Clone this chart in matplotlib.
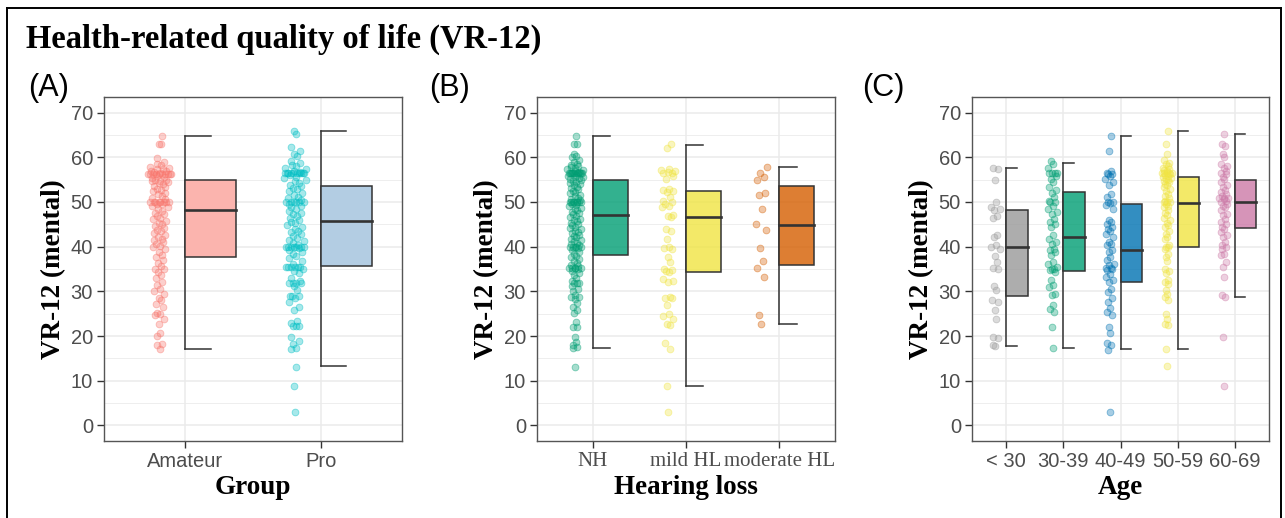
"""
Raincloud-style panels: VR-12 mental score by group, hearing loss and age
"""

import numpy as np
import matplotlib
matplotlib.use('Agg')
import matplotlib.pyplot as plt
from matplotlib.patches import Rectangle
from matplotlib.lines import Line2D
from matplotlib.colors import to_rgba

# ---- data ----
group_cats = ['Amateur', 'Pro']
amateur = [64.8, 62.9, 62.9, 59.8, 58.9, 58.4, 58.2, 57.8, 57.6, 57.4, 57.3, 57.0, 57.0, 56.8, 56.6,
           56.3, 56.3, 56.3, 56.3, 56.3, 56.3, 56.3, 56.3, 56.3, 56.3,
           55.8, 55.5, 55.3, 55.0, 55.0, 54.8, 54.6, 54.4, 54.2, 54.0, 53.6, 53.3, 53.0, 52.7,
           52.4, 52.0, 51.7, 51.4, 51.0, 50.7, 50.0, 50.0, 50.0, 50.0, 50.0, 50.0, 50.0, 50.0,
           49.6, 49.6, 49.2, 48.8, 48.4, 48.0, 47.6, 47.2, 46.8, 46.5, 46.1, 45.7, 45.3, 45.0,
           44.6, 44.2, 43.8, 43.4, 43.0, 42.6, 42.2, 41.8, 41.4, 41.0, 40.6, 40.2, 40.0, 39.4,
           38.8, 38.2, 37.6, 37.0, 36.3, 35.6, 35.0, 35.0, 34.4, 33.7, 33.0, 32.2, 31.4, 30.6,
           30.0, 29.3, 28.6, 28.0, 27.2, 26.4, 25.2, 25.0, 24.8, 23.8, 22.8, 20.7, 20.0, 18.3,
           18.0, 17.2]
pro = [65.8, 65.3, 62.2, 61.5, 60.8, 60.3, 59.2, 58.8, 58.3, 58.0, 57.6, 57.3, 57.0, 56.8,
       56.4, 56.4, 56.4, 56.4, 56.4, 56.4, 56.4, 56.4, 56.4, 56.4,
       56.0, 55.7, 55.4, 55.0, 54.6, 54.2, 53.9, 53.5, 53.1, 52.8, 52.4, 52.0, 51.6, 51.2,
       50.8, 50.4, 50.0, 50.0, 50.0, 50.0, 50.0, 50.0, 49.6, 49.2, 48.8, 48.4, 48.0, 47.6,
       47.2, 46.8, 46.4, 46.0, 45.6, 45.2, 44.8, 44.4, 44.0, 43.6, 43.2, 42.8, 42.4, 42.0,
       41.6, 41.2, 40.8, 40.4, 40.0, 40.0, 40.0, 40.0, 40.0, 40.0, 40.0, 39.6, 39.2, 38.8,
       38.4, 38.0, 37.4, 36.8, 36.2, 35.5, 35.5, 35.5, 35.5, 35.5, 35.5, 35.0, 34.6, 34.2,
       33.0, 32.4, 31.8, 31.8, 31.8, 31.8, 31.2, 30.2, 29.0, 29.0, 29.0, 28.4, 27.6, 26.6,
       25.9, 23.4, 22.9, 22.3, 22.3, 22.3, 19.7, 18.8, 18.2, 17.3, 17.0, 13.1, 8.8, 2.9]
# box stats: lower whisker, q1, median, q3, upper whisker
group_stats = [[17.2, 37.7, 48.3, 55.0, 64.8],
               [13.2, 35.7, 45.7, 53.5, 65.8]]

hl_cats = ['NH', 'mild HL', 'moderate HL']
nh = [64.8, 62.9, 62.9, 60.8, 60.3, 60.0, 59.3, 58.9, 58.6, 58.3, 58.0, 57.8, 57.6, 57.4,
      57.2, 57.0, 56.8, 56.6, 56.4, 56.4, 56.4, 56.4, 56.4, 56.4, 56.4, 56.4, 56.4, 56.4,
      56.1, 55.9, 55.7, 55.5, 55.3, 55.1, 54.9, 54.7, 54.5, 54.3, 54.0, 53.7, 53.4, 53.1,
      52.8, 52.5, 52.2, 51.9, 51.6, 51.3, 51.0, 50.7, 50.4, 50.0, 50.0, 50.0, 50.0, 50.0,
      50.0, 50.0, 50.0, 49.6, 49.3, 49.0, 48.7, 48.4, 48.1, 47.8, 47.5, 47.2, 46.9, 46.6,
      46.3, 46.0, 45.7, 45.4, 45.1, 44.8, 44.5, 44.2, 43.9, 43.6, 43.3, 43.0, 42.7, 42.4,
      42.1, 41.8, 41.5, 41.2, 40.9, 40.6, 40.3, 40.0, 40.0, 40.0, 40.0, 40.0, 39.6, 39.2,
      38.8, 38.4, 38.0, 37.6, 37.2, 36.8, 36.4, 36.0, 35.6, 35.3, 35.3, 35.3, 35.3, 35.3,
      35.0, 34.6, 34.2, 33.6, 33.0, 32.4, 31.8, 31.8, 31.8, 31.2, 30.6, 30.0, 29.2, 28.8,
      28.8, 28.2, 27.4, 26.6, 25.9, 25.1, 23.2, 22.1, 22.1, 19.8, 18.7, 18.0, 17.6, 17.3, 13.0]
mild = [62.9, 62.0, 57.4, 57.2, 57.0, 56.8, 56.6, 56.6, 55.8, 55.1, 52.9, 52.7, 52.5, 52.3,
        51.1, 50.3, 50.0, 49.6, 49.2, 48.8, 47.0, 46.8, 46.6, 44.0, 43.6, 41.8, 39.9, 39.7,
        39.5, 37.7, 36.6, 35.1, 34.8, 34.5, 34.3, 32.8, 32.4, 32.1, 28.8, 28.6, 28.4, 26.9,
        25.0, 24.4, 23.9, 22.8, 22.4, 18.4, 17.2, 8.8, 2.9]
moderate = [57.9, 56.4, 55.5, 54.9, 51.9, 51.6, 48.4, 45.0, 43.8, 39.8, 36.8, 35.3, 33.1,
            24.7, 22.7]
hl_stats = [[17.3, 38.2, 47.1, 55.0, 64.8],
            [8.8, 34.4, 46.6, 52.5, 62.8],
            [22.6, 36.0, 44.9, 53.5, 57.9]]

age_cats = ['< 30', '30-39', '40-49', '50-59', '60-69']
age_u30 = [57.7, 57.3, 54.9, 49.9, 48.8, 48.5, 48.2, 46.9, 46.4, 42.5, 42.1, 40.3, 40.0, 39.5,
           38.0, 36.6, 35.3, 34.9, 31.2, 30.2, 28.0, 27.7, 25.8, 23.9, 19.8, 19.5, 18.0, 17.7]
age_30s = [59.2, 58.5, 57.5, 56.4, 56.4, 56.4, 56.4, 55.8, 55.1, 54.4, 53.3, 52.7, 52.0, 51.2,
           50.3, 49.9, 49.9, 49.2, 48.5, 47.7, 47.3, 46.2, 45.5, 45.1, 44.4, 42.5, 41.8, 41.0,
           40.6, 39.5, 39.2, 38.8, 38.1, 36.6, 36.2, 35.4, 35.1, 35.1, 34.7, 34.3, 32.5, 31.4,
           31.0, 29.5, 29.1, 26.9, 26.0, 25.4, 22.1, 17.4]
age_40s = [64.8, 61.5, 57.0, 56.5, 56.3, 56.3, 55.9, 55.2, 54.4, 53.7, 51.8, 51.2, 50.0, 50.0,
           49.8, 49.4, 48.5, 46.0, 45.5, 45.1, 44.4, 44.0, 43.4, 42.9, 42.1, 41.0, 40.6, 40.3,
           39.2, 38.8, 37.7, 37.0, 36.2, 35.8, 35.3, 35.3, 35.0, 34.7, 33.9, 33.2, 32.5, 32.1,
           30.6, 29.9, 28.4, 27.6, 26.2, 25.4, 24.7, 22.1, 20.6, 18.4, 18.0, 16.9, 2.9]
age_50s = [65.8, 62.9, 60.7, 59.3, 58.8, 58.4, 58.0, 57.7, 57.4, 57.1, 56.9, 56.6, 56.6, 56.4,
           56.4, 56.4, 56.2, 56.0, 55.8, 55.6, 55.4, 55.1, 54.9, 54.7, 54.4, 54.1, 53.7, 53.3,
           52.9, 52.4, 51.8, 51.3, 50.8, 50.3, 50.0, 50.0, 50.0, 49.6, 49.2, 48.8, 48.1, 47.5,
           47.0, 46.4, 46.0, 45.4, 44.8, 44.4, 43.6, 42.9, 42.2, 41.8, 40.3, 40.0, 40.0, 39.5,
           38.4, 37.7, 36.9, 35.1, 34.6, 34.0, 32.5, 32.1, 31.7, 30.2, 29.4, 28.7, 28.0, 25.0,
           23.9, 22.8, 22.4, 17.2, 13.2]
age_60s = [65.3, 62.9, 62.6, 60.7, 60.0, 58.5, 58.1, 57.7, 57.0, 56.6, 56.3, 55.5, 55.1, 54.4,
           53.7, 53.3, 52.6, 52.2, 51.8, 51.4, 51.0, 50.9, 50.9, 50.6, 50.3, 50.0, 49.6, 49.2,
           48.8, 48.1, 47.3, 47.0, 46.2, 45.5, 45.1, 44.4, 44.0, 43.3, 42.5, 42.1, 41.0, 40.3,
           40.0, 39.5, 38.4, 38.1, 36.6, 35.4, 33.1, 29.1, 28.8, 19.8, 8.8]
age_stats = [[17.7, 29.0, 40.0, 48.3, 57.7],
             [17.4, 34.6, 42.2, 52.3, 58.8],
             [17.0, 32.1, 39.2, 49.6, 64.8],
             [17.2, 40.0, 49.7, 55.5, 65.8],
             [28.8, 44.2, 50.1, 54.9, 65.3]]

# ---- styles ----
SERIF = 'Liberation Serif'
SANS = 'Liberation Sans'
LINE = '#333333'
W, H = 1285, 518


def swarm_offsets(vals, width):
    # quasirandom spread, wider where points are dense
    vals = np.asarray(vals, dtype=float)
    counts = np.array([(np.abs(vals - v) < 1.6).sum() for v in vals], dtype=float)
    scale = np.sqrt(counts / counts.max())
    order = np.argsort(vals, kind='stable')
    u = np.empty(len(vals))
    for rank, idx in enumerate(order):
        n, f, q = rank + 1, 0.5, 0.0
        while n:
            q += f * (n % 2)
            n //= 2
            f /= 2
        u[idx] = q - 0.5
    return 2 * u * width * scale


def draw_panel(ax, cats, groups, stats, pt_colors, box_colors, tick_font):
    for i, (vals, pc, bc, st) in enumerate(zip(groups, pt_colors, box_colors, stats)):
        x = i + 1
        offs = swarm_offsets(vals, 0.09)
        ax.scatter(x - 0.19 + offs, vals, s=24, facecolor=to_rgba(pc, 0.35),
                   edgecolor=to_rgba(pc, 0.45), linewidth=0.6, zorder=2)
        lo, q1, med, q3, hi = st
        ax.plot([x, x], [lo, hi], color=LINE, lw=1.1, zorder=3)
        ax.plot([x, x + 0.1875], [lo, lo], color=LINE, lw=1.1, zorder=3)
        ax.plot([x, x + 0.1875], [hi, hi], color=LINE, lw=1.1, zorder=3)
        ax.add_patch(Rectangle((x, q1), 0.375, q3 - q1, facecolor=bc,
                               edgecolor=LINE, lw=1.1, zorder=4))
        ax.plot([x, x + 0.375], [med, med], color=LINE, lw=1.9, zorder=5)

    ax.set_xlim(0.4, len(cats) + 0.6)
    ax.set_ylim(-3.5, 73.5)
    ax.set_xticks(range(1, len(cats) + 1))
    ax.set_xticklabels(cats, family=tick_font, size=15 if tick_font == SERIF else 14.5,
                       color='#4D4D4D')
    ax.set_yticks(range(0, 71, 10))
    ax.set_yticks(range(5, 70, 10), minor=True)
    for lab in ax.get_yticklabels():
        lab.set_family(SANS)
        lab.set_size(14.5)
        lab.set_color('#4D4D4D')
    ax.tick_params(which='major', length=5, width=1.0, color=LINE, pad=3)
    ax.tick_params(which='minor', length=0)
    ax.grid(which='major', color='#EBEBEB', lw=1.1)
    ax.grid(which='minor', axis='y', color='#EBEBEB', lw=0.6)
    ax.set_axisbelow(True)
    for sp in ax.spines.values():
        sp.set_color('#555555')
        sp.set_linewidth(1.0)
    ax.set_ylabel('VR-12 (mental)', family=SERIF, weight='bold', size=19.5, labelpad=3)


fig = plt.figure(figsize=(W / 100, H / 100), dpi=100)
bottom, top = 1 - 441 / H, 1 - 97 / H

axA = fig.add_axes([104 / W, bottom, (402 - 104) / W, top - bottom])
draw_panel(axA, group_cats, [amateur, pro], group_stats,
           ['#F8766D', '#00BFC4'], ['#FBB4AE', '#B3CDE3'], SANS)
axA.set_xlabel('Group', family=SERIF, weight='bold', size=19.5, labelpad=3)

hl_cols = ['#009E73', '#F0E442', '#D55E00']
axB = fig.add_axes([537 / W, bottom, (835 - 537) / W, top - bottom])
draw_panel(axB, hl_cats, [nh, mild, moderate], hl_stats,
           hl_cols, [to_rgba(c, 0.8) for c in hl_cols], SERIF)
axB.set_xlabel('Hearing loss', family=SERIF, weight='bold', size=19.5, labelpad=3)

age_cols = ['#999999', '#009E73', '#0072B2', '#F0E442', '#CC79A7']
axC = fig.add_axes([972 / W, bottom, (1269 - 972) / W, top - bottom])
draw_panel(axC, age_cats, [age_u30, age_30s, age_40s, age_50s, age_60s], age_stats,
           age_cols, [to_rgba(c, 0.8) for c in age_cols], SANS)
axC.set_xlabel('Age', family=SERIF, weight='bold', size=19.5, labelpad=3)

fig.text(26 / W, 1 - 48 / H, 'Health-related quality of life (VR-12)',
         family=SERIF, weight='bold', size=23.5, va='baseline')
for lab, px in [('(A)', 28), ('(B)', 429), ('(C)', 862)]:
    fig.text(px / W, 1 - 96 / H, lab, family=SANS, size=22, va='baseline')

# outer frame (top, left, right)
frame = dict(color='black', lw=1.4, transform=fig.transFigure)
fig.add_artist(Line2D([6.5 / W, 6.5 / W], [0, 1 - 8 / H], **frame))
fig.add_artist(Line2D([6.5 / W, 1281 / W], [1 - 8 / H, 1 - 8 / H], **frame))
fig.add_artist(Line2D([1281 / W, 1281 / W], [0, 1 - 8 / H], **frame))

fig.savefig('out.png', dpi=100)
